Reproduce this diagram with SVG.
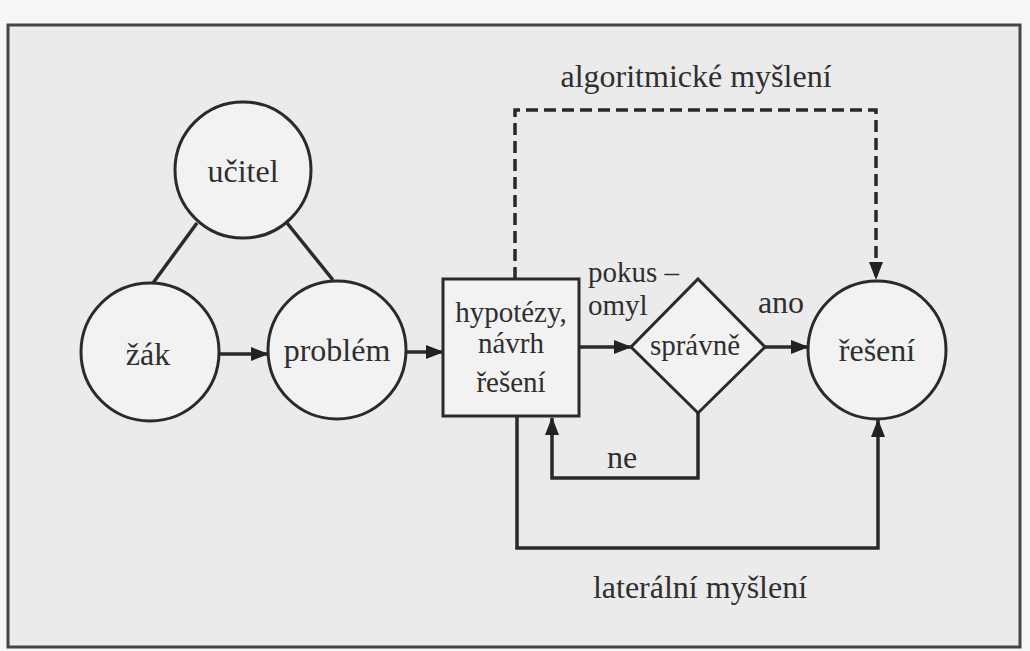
<svg xmlns="http://www.w3.org/2000/svg" width="1030" height="651" viewBox="0 0 1030 651">
<style>
.node{fill:#f2f2f2;stroke:#2a2a2a;stroke-width:3}
.t{font-family:"Liberation Serif","DejaVu Serif",serif;font-size:32px;fill:#2f2f2f;text-anchor:middle}
.s{font-size:29px}
.c{fill:none;stroke:#2a2a2a;stroke-width:3.5}
.d{stroke-dasharray:12 6}
</style>
<defs>
<marker id="ah" viewBox="0 0 18 14" refX="17" refY="7" markerWidth="18" markerHeight="14" markerUnits="userSpaceOnUse" orient="auto">
<path d="M0,0 L18,7 L0,14 z" fill="#222"/>
</marker>
</defs>
<rect x="0" y="0" width="1030" height="651" fill="#f6f6f6"/>
<rect x="8" y="25" width="1012" height="622" fill="#ebebeb" stroke="#444" stroke-width="3"/>

<g id="connectors">
<line class="c" x1="197" y1="223" x2="153" y2="283"/>
<line class="c" x1="287" y1="223" x2="333" y2="280"/>
<line class="c" x1="219" y1="354" x2="268" y2="354" marker-end="url(#ah)"/>
<line class="c" x1="406" y1="352" x2="443" y2="352" marker-end="url(#ah)"/>
<line class="c" x1="579" y1="347" x2="631" y2="347" marker-end="url(#ah)"/>
<line class="c" x1="765" y1="347" x2="808" y2="347" marker-end="url(#ah)"/>
<path class="c" d="M698,413 V478 H552 V418" marker-end="url(#ah)"/>
<path class="c" d="M517,416 V548 H878 V420" marker-end="url(#ah)"/>
<path class="c d" d="M515,279 V110 H876 V279" marker-end="url(#ah)"/>
<text class="t" x="696" y="87">algoritmické myšlení</text>
<text class="t" x="700" y="598">laterální myšlení</text>
<text class="t s" x="588" y="282" style="text-anchor:start">pokus –</text>
<text class="t s" x="588" y="315" style="text-anchor:start">omyl</text>
<text class="t" x="781" y="313">ano</text>
<text class="t" x="622" y="468">ne</text>
</g>

<g id="ucitel">
<circle class="node" cx="243" cy="170" r="68"/>
<text class="t" x="243" y="182">učitel</text>
</g>
<g id="zak">
<circle class="node" cx="150" cy="352" r="69"/>
<text class="t" x="148" y="365">žák</text>
</g>
<g id="problem">
<circle class="node" cx="337" cy="350" r="69"/>
<text class="t" x="337" y="361">problém</text>
</g>
<g id="hypotezy">
<rect class="node" x="443" y="279" width="136" height="137"/>
<text class="t s" x="511" y="322">hypotézy,</text>
<text class="t s" x="511" y="353">návrh</text>
<text class="t s" x="511" y="392">řešení</text>
</g>
<g id="spravne">
<polygon class="node" points="698,279 765,347 698,413 631,347"/>
<text class="t s" x="695" y="355">správně</text>
</g>
<g id="reseni">
<circle class="node" cx="877" cy="350" r="69"/>
<text class="t" x="877" y="361">řešení</text>
</g>
</svg>
